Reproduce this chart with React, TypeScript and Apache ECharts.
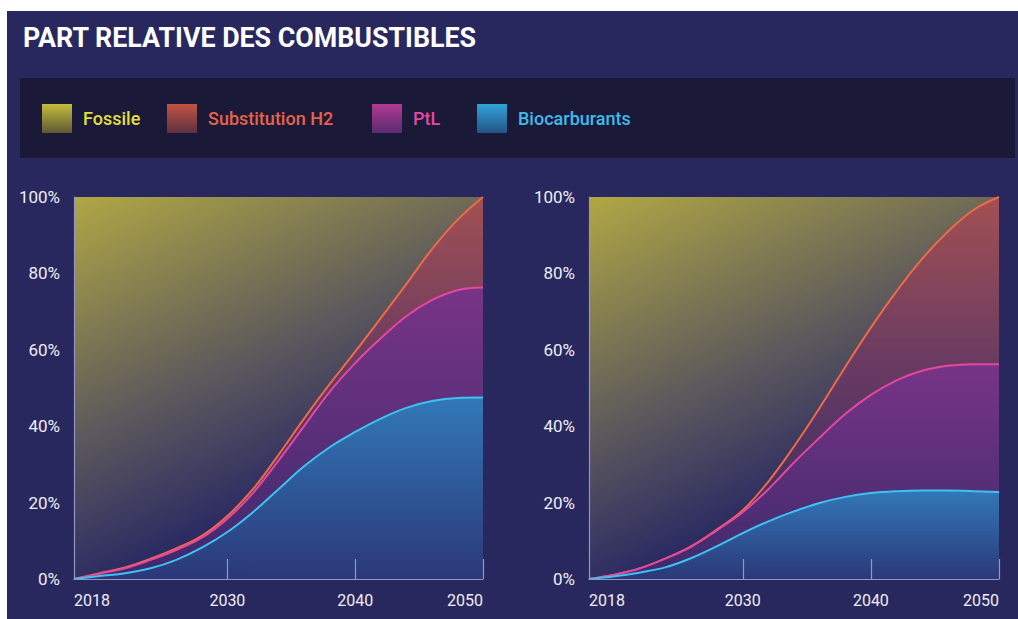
import React, { useEffect, useRef } from 'react';
import * as echarts from 'echarts';

// Years sampled on both charts
const years = [2018, 2020, 2022, 2024, 2026, 2028, 2030, 2032, 2034, 2036, 2038, 2040, 2042, 2044, 2046, 2048, 2050];

// Left chart – shares (%), stacked from bottom to top
const bioLeft = [0, 0.8, 1.5, 2.8, 5.0, 8.2, 12.3, 17.5, 23.5, 29.5, 34.5, 38.5, 42.0, 44.8, 46.6, 47.4, 47.5];
const ptlLeft = [0, 0.6, 1.3, 2.2, 2.6, 2.6, 3.5, 5.0, 7.5, 10.5, 14.5, 18.0, 21.0, 24.0, 26.4, 28.2, 28.8];
const h2Left = [0, 0.1, 0.2, 0.3, 0.4, 0.5, 0.7, 1.0, 1.5, 2.0, 2.0, 3.0, 5.3, 8.4, 13.3, 18.4, 23.7];
const fossileLeft = [100, 98.5, 97.0, 94.7, 92.0, 88.7, 83.5, 76.5, 67.5, 58.0, 49.0, 40.5, 31.7, 22.8, 13.7, 6.0, 0];

// Right chart – shares (%)
const bioRight = [0, 0.7, 1.7, 3.1, 5.5, 8.6, 12.0, 15.1, 17.7, 19.9, 21.5, 22.5, 23.0, 23.2, 23.2, 23.0, 22.8];
const ptlRight = [0, 0.4, 1.1, 2.3, 3.0, 4.2, 5.5, 8.4, 12.8, 17.1, 21.7, 25.7, 29.0, 31.3, 32.6, 33.2, 33.4];
const h2Right = [0, 0, 0, 0, 0.1, 0.2, 0.5, 2.0, 4.2, 7.8, 12.3, 17.6, 23.3, 29.3, 35.1, 40.4, 43.8];
const fossileRight = [100, 98.9, 97.2, 94.6, 91.4, 87.0, 82.0, 74.5, 65.3, 55.2, 44.5, 34.2, 24.7, 16.2, 9.1, 3.4, 0];

const yTicks = [0, 20, 40, 60, 80, 100];
const xLabelYears = ['2018', '2030', '2040', '2050'];
const xTickYears = ['2030', '2040', '2050'];

const names = ['Fossile', 'Substitution H2', 'PtL', 'Biocarburants'];

export default function App() {
  const ref = useRef<HTMLDivElement>(null);

  useEffect(() => {
    if (!ref.current) return;
    const chart = echarts.init(ref.current, null, { renderer: 'svg' });
    const LG = echarts.graphic.LinearGradient;

    const fossilFill = () =>
      new LG(0, 0, 0.5, 1, [
        { offset: 0, color: '#b0a744' },
        { offset: 0.5, color: '#5e5a5c' },
        { offset: 0.85, color: '#282863' },
        { offset: 1, color: '#282863' },
      ]);
    const h2Fill = () =>
      new LG(0, 0, 0, 1, [
        { offset: 0, color: '#a25052' },
        { offset: 0.45, color: '#683a62' },
        { offset: 1, color: '#2c2a64' },
      ]);
    const ptlFill = () =>
      new LG(0, 0, 0, 1, [
        { offset: 0, color: '#783486' },
        { offset: 1, color: '#3c2a6c' },
      ]);
    const bioFill = () =>
      new LG(0, 0, 0, 1, [
        { offset: 0, color: '#3278b8' },
        { offset: 1, color: '#2b3878' },
      ]);

    const mk = (
      name: string,
      values: number[],
      g: number,
      z: number,
      lineColor: string,
      lineWidth: number,
      fill: any
    ) => ({
      type: 'line',
      name,
      xAxisIndex: g,
      yAxisIndex: g,
      stack: 'stack' + g,
      data: values,
      smooth: 0.4,
      showSymbol: false,
      symbol: 'none',
      z,
      lineStyle: { color: lineColor, width: lineWidth },
      itemStyle: { color: lineColor },
      areaStyle: { color: fill, opacity: 1 },
      emphasis: { disabled: true },
    });

    const axisColor = '#9494c6';
    const labelColor = '#eeeef6';

    const xAxis = (g: number) => ({
      type: 'category',
      gridIndex: g,
      data: years.map(String),
      boundaryGap: false,
      z: 10,
      splitLine: { show: false },
      axisLine: { show: true, lineStyle: { color: axisColor, width: 1.2 } },
      axisTick: {
        show: true,
        inside: true,
        length: 20,
        interval: (_i: number, v: string) => xTickYears.includes(v),
        lineStyle: { color: axisColor, width: 1.2 },
      },
      axisLabel: {
        interval: (_i: number, v: string) => xLabelYears.includes(v),
        color: labelColor,
        fontSize: 16,
        fontFamily: 'Roboto',
        margin: 13,
        alignMinLabel: 'left',
        alignMaxLabel: 'right',
      },
    });

    const yAxis = (g: number) => ({
      type: 'value',
      gridIndex: g,
      min: yTicks[0],
      max: yTicks[yTicks.length - 1],
      interval: 20,
      z: 10,
      splitLine: { show: false },
      axisLine: { show: true, lineStyle: { color: axisColor, width: 1.2 } },
      axisTick: { show: false },
      axisLabel: {
        color: labelColor,
        fontSize: 17,
        fontFamily: 'Roboto',
        margin: 14,
        formatter: '{value}%',
      },
    });

    const legendItems = [
      { name: names[0], left: 42, top: '#c4bc3c', bottom: '#5e5834', text: '#e6df3c' },
      { name: names[1], left: 167, top: '#c25444', bottom: '#5e3040', text: '#e8624a' },
      { name: names[2], left: 372, top: '#b23a92', bottom: '#5a2a70', text: '#e04aa6' },
      { name: names[3], left: 477, top: '#30a2da', bottom: '#225484', text: '#40bae8' },
    ];

    const option: any = {
      animation: false,
      backgroundColor: '#ffffff',
      title: {
        text: 'PART RELATIVE DES COMBUSTIBLES',
        left: 23,
        top: 24,
        padding: 0,
        textStyle: { color: '#ffffff', fontSize: 26.8, fontWeight: 'bold', fontFamily: 'Roboto' },
      },
      graphic: {
        elements: [
          { type: 'rect', z: -10, shape: { x: 7, y: 11, width: 1011, height: 608 }, style: { fill: '#28285f' } },
          { type: 'rect', z: -9, shape: { x: 20, y: 78, width: 995, height: 80 }, style: { fill: '#1a1938' } },
        ],
      },
      legend: legendItems.map((it) => ({
        left: it.left,
        top: 104,
        padding: 0,
        itemWidth: 30,
        itemHeight: 29,
        icon: 'rect',
        selectedMode: false,
        textStyle: { fontSize: 18, fontWeight: 500, fontFamily: 'Roboto', padding: [0, 0, 0, 6], color: it.text },
        data: [
          {
            name: it.name,
            itemStyle: { color: new LG(0, 0, 0, 1, [{ offset: 0, color: it.top }, { offset: 1, color: it.bottom }]) },
          },
        ],
      })),
      grid: [
        { left: 74, top: 197, width: 409, height: 382 },
        { left: 589, top: 197, width: 410, height: 382 },
      ],
      xAxis: [xAxis(0), xAxis(1)],
      yAxis: [yAxis(0), yAxis(1)],
      series: [
        mk(names[3], bioLeft, 0, 6, '#3ec2f0', 2, bioFill()),
        mk(names[2], ptlLeft, 0, 5, '#e4489e', 2, ptlFill()),
        mk(names[1], h2Left, 0, 4, '#ee6a48', 2, h2Fill()),
        mk(names[0], fossileLeft, 0, 3, '#c4bc3c', 0, fossilFill()),
        mk(names[3], bioRight, 1, 6, '#3ec2f0', 2, bioFill()),
        mk(names[2], ptlRight, 1, 5, '#e4489e', 2, ptlFill()),
        mk(names[1], h2Right, 1, 4, '#ee6a48', 2, h2Fill()),
        mk(names[0], fossileRight, 1, 3, '#c4bc3c', 0, fossilFill()),
      ],
    };

    chart.setOption(option);
    return () => chart.dispose();
  }, []);

  return (
    <div
      ref={ref}
      style={{ position: 'fixed', left: 0, top: 0, width: 1018, height: 619 }}
    />
  );
}
